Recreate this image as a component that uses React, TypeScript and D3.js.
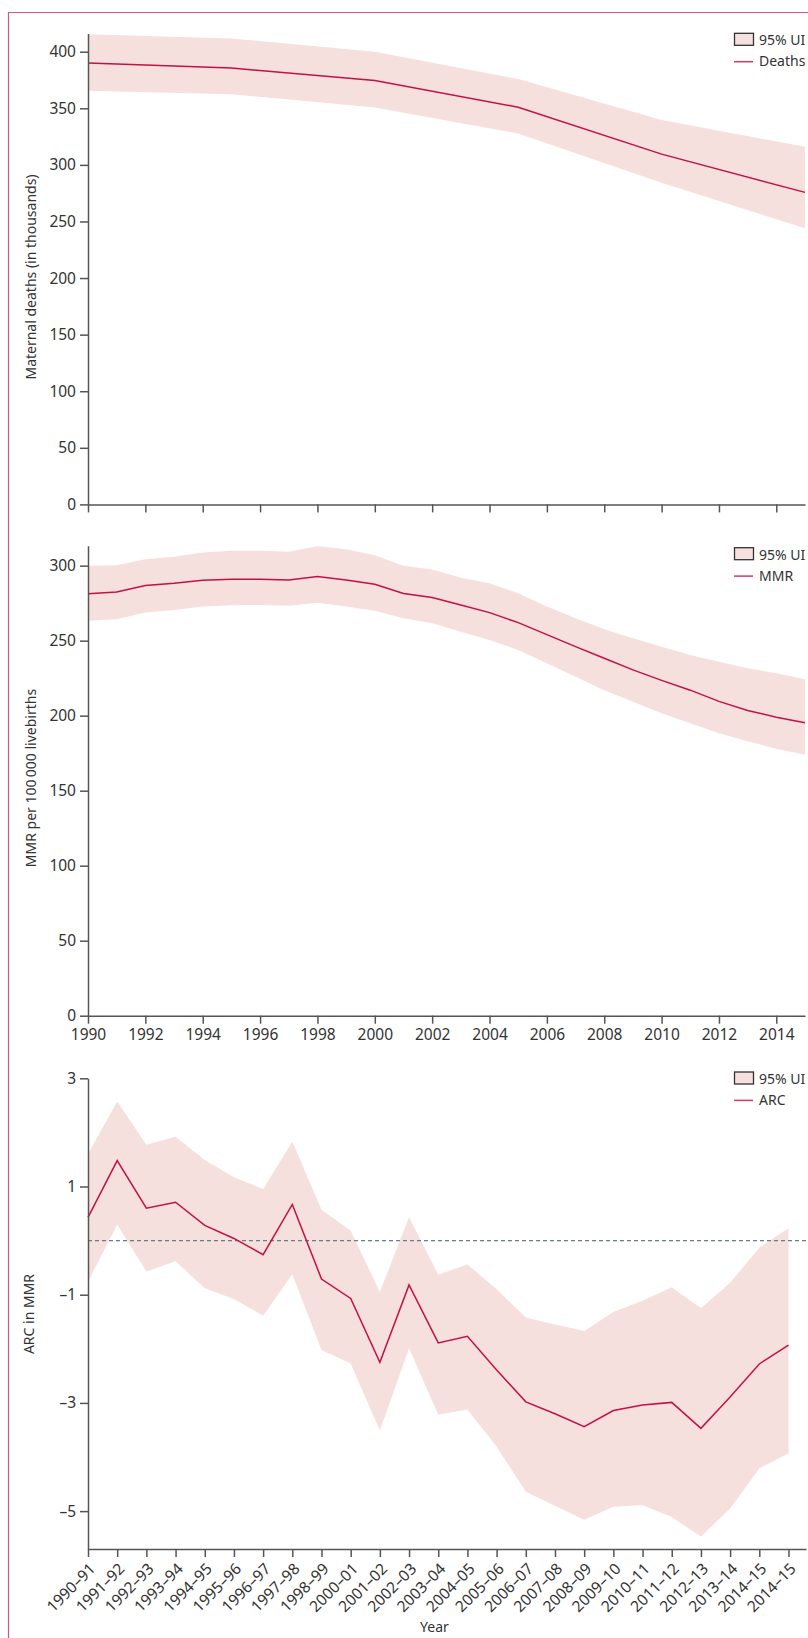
import React, { useEffect, useRef } from 'react';
import * as d3 from 'd3';

const FONT = '"Noto Sans", "Open Sans", sans-serif';
const RED = '#c3123e';
const BAND = '#f5e0de';
const AXIS = '#555';
const TEXT = '#333';
const FRAME = '#d5577e';

// panel 1: maternal deaths (thousands)
const deathYears = [1990, 1995, 2000, 2005, 2010, 2015];
const deaths = [390, 385.5, 374.5, 351, 309.5, 275.7];
const deathsHi = [415.5, 411.7, 400, 375.8, 339.6, 316];
const deathsLo = [365.5, 362.5, 350.8, 327.8, 284.2, 243.9];
const deathTicks = [0, 50, 100, 150, 200, 250, 300, 350, 400];

// panel 2: MMR per 100 000 livebirths
const mmrYears = [
  1990, 1991, 1992, 1993, 1994, 1995, 1996, 1997, 1998, 1999, 2000, 2001, 2002,
  2003, 2004, 2005, 2006, 2007, 2008, 2009, 2010, 2011, 2012, 2013, 2014, 2015,
];
const mmr = [
  281.3, 282.5, 286.7, 288.2, 290.2, 290.9, 291, 290.5, 292.7, 290.5, 287.6, 281.5, 278.7,
  273.8, 268.7, 262, 254, 246, 238.3, 230.5, 223.5, 217, 209.5, 203.5, 199, 195.3,
];
const mmrHi = [
  300, 300.2, 304.3, 306, 308.7, 310, 310, 309.3, 313, 311, 307, 300, 297.5,
  292, 288.2, 281.6, 272.7, 265, 257.6, 251.6, 246, 240.5, 236, 231.6, 228.3, 224.3,
];
const mmrLo = [
  263.3, 264.2, 268.7, 270.5, 272.7, 273.6, 273.8, 273.3, 275.3, 272.7, 270, 265, 261.6,
  256, 250.5, 243.8, 235, 226, 217, 209.3, 201.6, 195, 188.3, 183, 178, 174,
];
const mmrTicks = [0, 50, 100, 150, 200, 250, 300];
const yearTicks = [1990, 1992, 1994, 1996, 1998, 2000, 2002, 2004, 2006, 2008, 2010, 2012, 2014];

// panel 3: annualised rate of change
const arcLabels = [
  '1990–91', '1991–92', '1992–93', '1993–94', '1994–95', '1995–96', '1996–97', '1997–98',
  '1998–99', '2000–01', '2001–02', '2002–03', '2003–04', '2004–05', '2005–06', '2006–07',
  '2007–08', '2008–09', '2009–10', '2010–11', '2011–12', '2012–13', '2013–14', '2014–15', '2014–15',
];
const arc = [
  0.43, 1.48, 0.6, 0.71, 0.28, 0.04, -0.26, 0.67, -0.71, -1.07, -2.25, -0.82, -1.89,
  -1.77, -2.39, -2.98, -3.2, -3.44, -3.14, -3.04, -2.99, -3.47, -2.89, -2.28, -1.93,
];
const arcHi = [
  1.6, 2.57, 1.77, 1.92, 1.49, 1.17, 0.95, 1.83, 0.57, 0.18, -0.95, 0.43, -0.63,
  -0.44, -0.9, -1.42, -1.55, -1.67, -1.32, -1.11, -0.86, -1.25, -0.78, -0.13, 0.23,
];
const arcLo = [
  -0.76, 0.3, -0.57, -0.38, -0.88, -1.08, -1.39, -0.62, -2.02, -2.27, -3.51, -1.99, -3.22,
  -3.12, -3.81, -4.64, -4.9, -5.16, -4.92, -4.89, -5.11, -5.47, -4.95, -4.21, -3.93,
];
const arcTicks = [3, 1, -1, -3, -5];

const X0 = 88;
const XEND = 805;

const styleAxis = (g: d3.Selection<SVGGElement, unknown, null, undefined>) => {
  g.attr('font-family', FONT);
  g.selectAll('path, line').attr('stroke', AXIS).attr('stroke-width', 1.5);
  g.selectAll('text').attr('font-family', FONT).attr('font-size', 15.5).attr('fill', TEXT);
};

const minus = (v: number) => (v < 0 ? '–' + Math.abs(v) : String(v));

const App: React.FC = () => {
  const svgRef = useRef<SVGSVGElement | null>(null);

  useEffect(() => {
    if (!svgRef.current) return;
    const svg = d3.select(svgRef.current);
    svg.selectAll('*').remove();

    // frame
    svg.append('path')
      .attr('d', `M8.5,1638 V12.5 H808`)
      .attr('fill', 'none')
      .attr('stroke', FRAME)
      .attr('stroke-width', 1.2);

    const drawSeries = (
      xs: number[], mid: number[], lo: number[], hi: number[],
      x: (v: number) => number, y: d3.ScaleLinear<number, number>
    ) => {
      const idx = mid.map((_, i) => i);
      svg.append('path')
        .attr('d', d3.area<number>().x(i => x(xs[i])).y0(i => y(lo[i])).y1(i => y(hi[i]))(idx) as string)
        .attr('fill', BAND);
      return () => svg.append('path')
        .attr('d', d3.line<number>().x(i => x(xs[i])).y(i => y(mid[i]))(idx) as string)
        .attr('fill', 'none')
        .attr('stroke', RED)
        .attr('stroke-width', 1.5);
    };

    const legend = (top: number, name: string) => {
      const lg = svg.append('g').attr('font-family', FONT).attr('font-size', 14).attr('fill', TEXT);
      lg.append('rect').attr('x', 734.5).attr('y', top).attr('width', 19).attr('height', 12)
        .attr('fill', BAND).attr('stroke', '#333').attr('stroke-width', 1.3);
      lg.append('text').attr('x', 759).attr('y', top + 12).text('95% UI');
      lg.append('line').attr('x1', 734).attr('x2', 753).attr('y1', top + 28.4).attr('y2', top + 28.4)
        .attr('stroke', '#cc3b62').attr('stroke-width', 1.5);
      lg.append('text').attr('x', 759).attr('y', top + 33).text(name);
    };

    const yTitle = (cx: number, cy: number, label: string) => {
      svg.append('text')
        .attr('transform', `translate(${cx},${cy}) rotate(-90)`)
        .attr('text-anchor', 'middle')
        .attr('font-family', FONT)
        .attr('font-size', 14)
        .attr('fill', TEXT)
        .text(label);
    };

    const xTime = d3.scaleLinear().domain([1990, 2015]).range([X0, XEND]);

    // panel 1
    const y1 = d3.scaleLinear().domain([0, 416]).range([504.4, 33.6]);
    drawSeries(deathYears, deaths, deathsLo, deathsHi, xTime, y1)();
    styleAxis(svg.append('g').attr('transform', `translate(${X0},0)`)
      .call(d3.axisLeft(y1).tickValues(deathTicks).tickSize(8).tickSizeOuter(0).tickPadding(4)));
    styleAxis(svg.append('g').attr('transform', `translate(0,${y1(0)})`)
      .call(d3.axisBottom(xTime).tickValues(yearTicks).tickSize(8).tickSizeOuter(0).tickFormat(() => '')));
    legend(33.3, 'Deaths');
    yTitle(36, 277, 'Maternal deaths (in thousands)');

    // panel 2
    const y2 = d3.scaleLinear().domain([0, 313.3]).range([1015.7, 545.7]);
    drawSeries(mmrYears, mmr, mmrLo, mmrHi, xTime, y2)();
    styleAxis(svg.append('g').attr('transform', `translate(${X0},0)`)
      .call(d3.axisLeft(y2).tickValues(mmrTicks).tickSize(8).tickSizeOuter(0).tickPadding(4)));
    styleAxis(svg.append('g').attr('transform', `translate(0,${y2(0)})`)
      .call(d3.axisBottom(xTime).tickValues(yearTicks).tickSize(8).tickSizeOuter(0).tickPadding(5)
        .tickFormat(d => String(d))));
    legend(547.7, 'MMR');
    yTitle(36, 778, 'MMR per 100\u2009000 livebirths');

    // panel 3
    const xIdx = d3.scaleLinear().domain([0, 24.6]).range([X0, 806]);
    const y3 = d3.scaleLinear().domain([-5.7, 3]).range([1549, 1078.3]);
    const idxs = arc.map((_, i) => i);
    const drawArcLine = drawSeries(idxs, arc, arcLo, arcHi, v => xIdx(v), y3);
    svg.append('line')
      .attr('x1', X0).attr('x2', 806)
      .attr('y1', y3(0)).attr('y2', y3(0))
      .attr('stroke', '#6b7c86').attr('stroke-width', 1.2).attr('stroke-dasharray', '4,3');
    drawArcLine();
    styleAxis(svg.append('g').attr('transform', `translate(${X0},0)`)
      .call(d3.axisLeft(y3).tickValues(arcTicks).tickSize(8).tickSizeOuter(0).tickPadding(4)
        .tickFormat(d => minus(+d))));
    const xb = svg.append('g').attr('transform', `translate(0,${y3.range()[0]})`)
      .call(d3.axisBottom(xIdx).tickValues(idxs).tickSize(8).tickSizeOuter(0)
        .tickFormat(d => arcLabels[+d]));
    styleAxis(xb);
    xb.selectAll('text')
      .attr('y', 0)
      .attr('dy', '0.35em')
      .attr('text-anchor', 'end')
      .attr('transform', 'translate(4,17) rotate(-45)');
    legend(1072, 'ARC');
    yTitle(34, 1314, 'ARC in MMR');

    svg.append('text')
      .attr('x', 434.5).attr('y', 1632)
      .attr('text-anchor', 'middle')
      .attr('font-family', FONT).attr('font-size', 14).attr('fill', TEXT)
      .text('Year');
  }, []);

  return (
    <svg
      ref={svgRef}
      width={808}
      height={1638}
      style={{ position: 'absolute', left: 0, top: 0, background: '#fff' }}
    />
  );
};

export default App;
